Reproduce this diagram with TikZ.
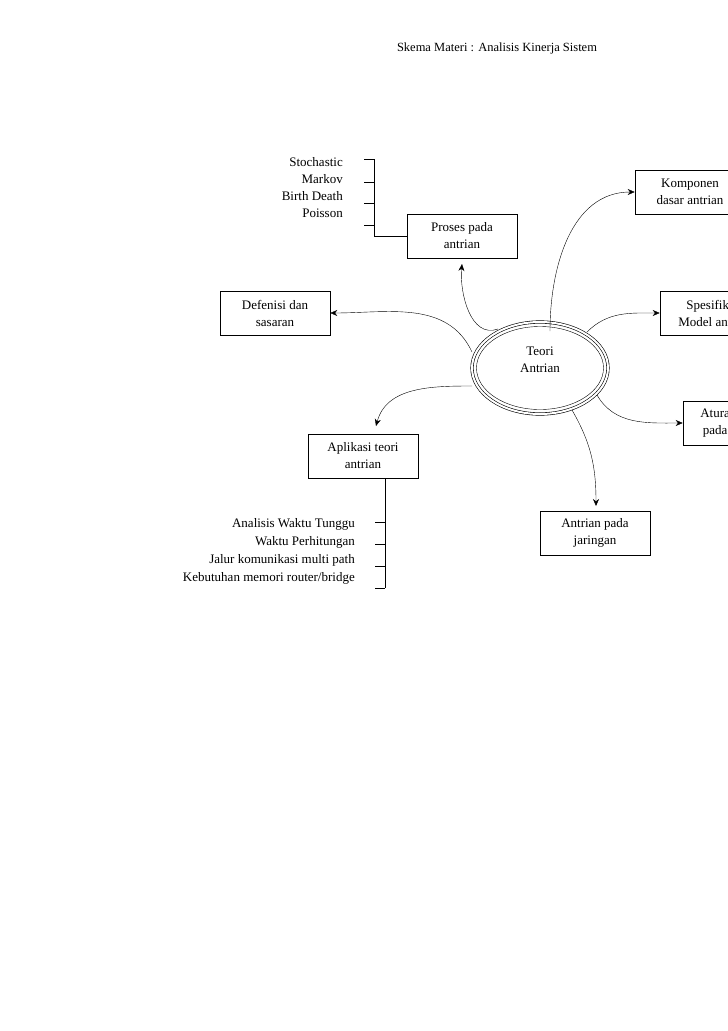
\documentclass[tikz,border=0pt]{standalone}
\usepackage{fontspec}
\setmainfont{Liberation Serif}
\usetikzlibrary{arrows, arrows.meta, positioning, shapes.geometric}

\begin{document}
\begin{tikzpicture}[x=1pt, y=-1pt,
    box/.style={draw, semithick, minimum width=110pt, minimum height=44pt, align=center, font=\fontsize{13}{17}\selectfont},
    item/.style={anchor=east, inner sep=0pt, font=\fontsize{13}{17}\selectfont},
    arr/.style={-{Stealth[length=7pt, width=6pt]}, thin}
]
    \useasboundingbox (0,0) rectangle (728,1031);
    \clip (0,0) rectangle (728,1031);

    % Title
    \node[font=\fontsize{12.5}{14}\selectfont] (title) at (497,48) {Skema Materi : Analisis Kinerja Sistem};

    % Center
    \node[ellipse, draw, semithick, double, double distance=2pt, minimum width=136pt, minimum height=92pt] (teori) at (540,368) {};
    \node[draw, ellipse, minimum width=127pt, minimum height=83pt] (teoriin) at (540,368) {};
    \node[align=center, font=\fontsize{13}{17}\selectfont] (teoritxt) at (540,360) {Teori\\Antrian};

    % Boxes
    \node[box] (proses) at (462,236) {Proses pada\\antrian};
    \node[box] (komponen) at (690,192) {Komponen\\dasar antrian};
    \node[box] (defenisi) at (275,313) {Defenisi dan\\sasaran};
    \node[box] (spesifik) at (715,313) {Spesifikasi\\Model antrian};
    \node[box] (aturan) at (738,423) {Aturan antrian\\pada jaringan};
    \node[box] (aplikasi) at (363,456) {Aplikasi teori\\antrian};
    \node[box] (jaringan) at (595,533) {Antrian pada\\jaringan};

    % Top list
    \foreach \y/\txt in {162/Stochastic, 179/Markov, 196/Birth Death, 213/Poisson}
        \node[item] at (343,\y) {\txt};
    \foreach \y in {159,182,203,225}
        \draw (364,\y) -- (374,\y);
    \draw (374,159) -- (374,236) -- (proses.west |- 0,236);

    % Bottom list
    \foreach \y/\txt in {524/{Analisis Waktu Tunggu}, 542/{Waktu Perhitungan}, 560/{Jalur komunikasi multi path}, 578/{Kebutuhan memori router/bridge}}
        \node[item] at (355,\y) {\txt};
    \foreach \y in {522,544,566,588}
        \draw (375,\y) -- (385,\y);
    \draw (aplikasi.south -| 385,0) -- (385,588);

    % Connectors
    \coordinate (p1) at (498,329);
    \coordinate (p2) at (472,352);
    \coordinate (p3) at (472,386);
    \coordinate (p4) at (550,331);
    \coordinate (p5) at (587,332);
    \coordinate (p6) at (597,395);
    \coordinate (p7) at (572,410);
    \draw[arr] (p1) to[out=200, in=-95] (462,264);
    \draw[arr] (p2) to[out=115, in=0] (defenisi.east);
    \draw[arr] (p3) to[out=180, in=75] (376,426);
    \draw[arr] (p4) to[out=90, in=180] (komponen.west);
    \draw[arr] (p5) to[out=45, in=180] (spesifik.west);
    \draw[arr] (p6) to[out=-60, in=180] (aturan.west);
    \draw[arr] (p7) to[out=-60, in=90] (596,506);
\end{tikzpicture}
\end{document}
